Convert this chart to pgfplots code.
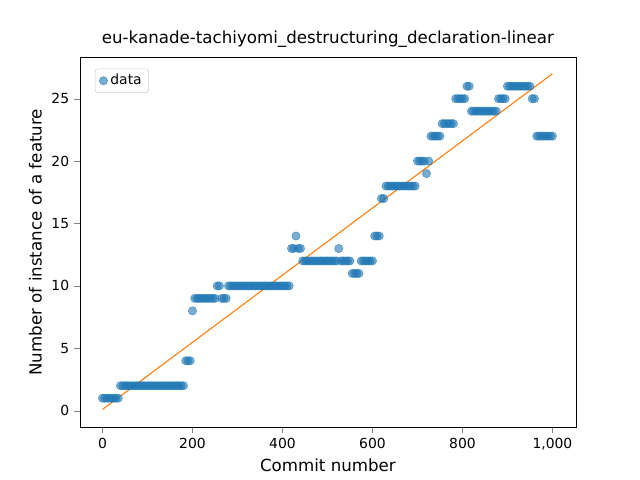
\documentclass[border=0pt]{standalone}
\usepackage{pgfplots}
\pgfplotsset{compat=1.18}
\usepackage{fontspec}
\setmainfont{DejaVu Sans}
\definecolor{mblue}{HTML}{1F77B4}
\definecolor{morange}{HTML}{FF7F0E}
\begin{document}
\begin{tikzpicture}
\path (-57.6pt,-38.2pt) rectangle (403.2pt,307.4pt);
\begin{axis}[at={(0,0)},anchor=south west,scale only axis,width=357pt,height=266pt,
xmin=-50,xmax=1052,ymin=-1.3,ymax=28.3,
xtick={0,200,400,600,800,1000},ytick={0,5,10,15,20,25},
tick label style={font=\fontsize{10}{12}\selectfont},
/pgf/number format/assume math mode=true,
tick align=outside,xtick pos=bottom,ytick pos=left,
title={eu-kanade-tachiyomi\_destructuring\_declaration-linear},
title style={font=\fontsize{12}{14}\selectfont,yshift=-2pt},
xlabel={Commit number},ylabel={Number of instance of a feature},
label style={font=\fontsize{12}{14}\selectfont},
legend pos=north west,legend style={font=\fontsize{10}{12}\selectfont,draw=black!20,rounded corners=2pt},
legend cell align=left]
\addplot[only marks,mark=*,mark size=3pt,draw=mblue,fill=mblue,opacity=0.6] table {
x y
0 1
5 1
10 1
15 1
20 1
25 1
30 1
35 1
40 2
45 2
50 2
55 2
60 2
65 2
70 2
75 2
80 2
85 2
90 2
95 2
100 2
105 2
110 2
115 2
120 2
125 2
130 2
135 2
140 2
145 2
150 2
155 2
160 2
165 2
170 2
175 2
180 2
185 4
190 4
195 4
200 8
205 9
210 9
215 9
220 9
225 9
230 9
235 9
240 9
245 9
250 9
255 10
260 10
265 9
270 9
275 9
280 10
285 10
290 10
295 10
300 10
305 10
310 10
315 10
320 10
325 10
330 10
335 10
340 10
345 10
350 10
355 10
360 10
365 10
370 10
375 10
380 10
385 10
390 10
395 10
400 10
405 10
410 10
415 10
420 13
425 13
430 14
435 13
440 13
445 12
450 12
455 12
460 12
465 12
470 12
475 12
480 12
485 12
490 12
495 12
500 12
505 12
510 12
515 12
520 12
525 13
530 12
535 12
540 12
545 12
550 12
555 11
560 11
565 11
570 11
575 12
580 12
585 12
590 12
595 12
600 12
605 14
610 14
615 14
620 17
625 17
630 18
635 18
640 18
645 18
650 18
655 18
660 18
665 18
670 18
675 18
680 18
685 18
690 18
695 18
700 20
705 20
710 20
715 20
720 19
725 20
730 22
735 22
740 22
745 22
750 22
755 23
760 23
765 23
770 23
775 23
780 23
785 25
790 25
795 25
800 25
805 25
810 26
815 26
820 24
825 24
830 24
835 24
840 24
845 24
850 24
855 24
860 24
865 24
870 24
875 24
880 25
885 25
890 25
895 25
900 26
905 26
910 26
915 26
920 26
925 26
930 26
935 26
940 26
945 26
950 26
955 25
960 25
965 22
970 22
975 22
980 22
985 22
990 22
995 22
1000 22
};
\addlegendentry{data}
\addplot[morange,thick,no marks] coordinates {(0,0.1)(1000,27.0)};
\end{axis}
\end{tikzpicture}
\end{document}
